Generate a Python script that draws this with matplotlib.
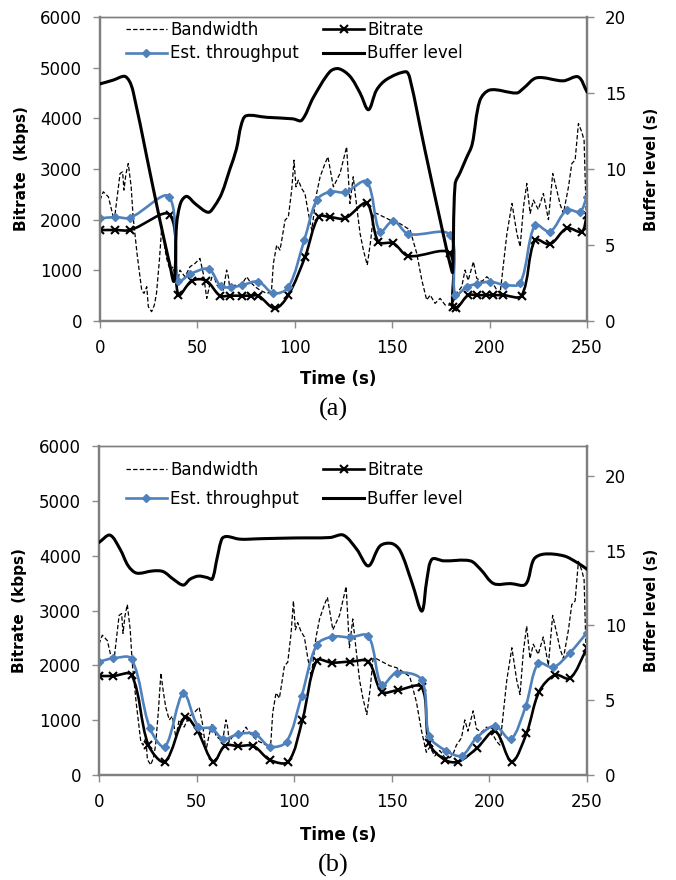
import numpy as np
import matplotlib
matplotlib.use("Agg")
import matplotlib.pyplot as plt
from matplotlib.path import Path
from matplotlib.patches import PathPatch
from matplotlib.lines import Line2D

plt.rcParams['font.family'] = ['DejaVu Sans']

# bandwidth trace (same network trace in both runs)
bw_t = [0, 1.7, 4.3, 6.8, 7.7, 10.3, 11.6, 12.3, 13.3, 14.5,
        16, 17, 19, 21.4, 22.6, 24, 24.8, 26.5, 27.9, 29,
        30.5, 31.7, 32.9, 34.2, 36, 37.6, 39.4, 41, 43.6, 46.2,
        48.8, 51.3, 53, 54.8, 56.5, 58, 60, 63.3, 65, 65.9,
        66.7, 68.4, 71, 73, 75.3, 77, 79.6, 82, 85.6, 88,
        89, 90.7, 92.4, 93.3, 95, 96.7, 98.4, 99.6, 100.6, 101.8,
        103.5, 105.2, 107, 108.7, 111.2, 113, 115.5, 117, 119.8, 123.2,
        126.6, 128.3, 130, 131.8, 133.5, 135.2, 137.2, 139, 140.4, 142,
        145.5, 149, 152.4, 156.6, 159.2, 162.6, 165.2, 167.7, 169.5, 172,
        174.6, 177.2, 179.7, 181.4, 183.1, 185.7, 187.4, 189, 191.7, 193.4,
        196, 198.6, 201.2, 203.7, 205.4, 208.9, 211.5, 214, 215.7, 217.4,
        219.1, 220.8, 222.5, 225, 227.6, 230.2, 232.4, 234.5, 236.2, 237.9,
        240.5, 242.2, 243.9, 245.6, 247.3, 248.5, 250]
bw_v = [2386, 2550, 2450, 2057, 2100, 2911, 2944, 2583, 2900, 3108,
        2648, 2057, 1334, 611, 545, 677, 283, 184, 315, 545,
        1203, 1860, 1531, 1235, 1005, 1071, 677, 1005, 874, 1071,
        1137, 1235, 940, 447, 743, 940, 710, 611, 1005, 874,
        611, 700, 710, 740, 874, 775, 677, 611, 545, 578,
        1137, 1498, 1400, 1597, 1991, 2057, 2583, 3174, 2648, 2780,
        2616, 2517, 2123, 1794, 2517, 2846, 3108, 3240, 2648, 2911,
        3437, 2320, 2846, 2254, 1728, 1400, 1104, 1597, 2123, 2123,
        2057, 1991, 1958, 1860, 1794, 1334, 808, 414, 512, 348,
        447, 315, 315, 381, 545, 677, 1005, 800, 1170, 841,
        780, 874, 775, 611, 545, 1728, 2320, 1728, 1466, 2254,
        2714, 2123, 2386, 2200, 2517, 2000, 2911, 2583, 2300, 2123,
        2648, 3108, 3174, 3897, 3733, 3568, 1597]

# (a)
br_a_t = [0, 7.9, 15.6, 35.9, 40.2, 47.2, 54.5, 61.6, 66.7, 72.7, 77.5, 81.3,
          89.8, 96.7, 105.3, 112.2, 118.2, 125.8, 136.9, 142.9, 150.6, 158.3,
          179.5, 181, 183, 189, 193.3, 198.4, 201.8, 207, 216.4, 223.3, 231,
          239.6, 247.3, 250]
br_a_v = [1796, 1796, 1796, 2092, 513, 796, 796, 500, 500, 500, 500, 500,
          250, 513, 1270, 2059, 2050, 2027, 2323, 1566, 1533, 1283,
          1336, 283, 250, 510, 510, 510, 510, 510, 500, 1599, 1514,
          1830, 1763, 2100]
tp_a_t = [0, 7.9, 15.6, 35.4, 40.2, 46.3, 55.8, 62, 67.5, 72.7, 81.3, 89,
          96.7, 104.9, 111.3, 118.2, 125.8, 136.9, 143.7, 150.6, 158.3, 179.7,
          182.3, 188.3, 193.4, 200.3, 208, 215.7, 223.3, 231, 239.6, 246.4, 250]
tp_a_v = [2027, 2050, 2040, 2454, 790, 928, 1026, 690, 665, 705, 776, 546,
          665, 1599, 2389, 2553, 2540, 2750, 1763, 1980, 1717, 1698,
          513, 677, 730, 776, 711, 744, 1895, 1763, 2191, 2158, 2454]
buf_a_t = [0, 6.8, 12.5, 15, 17, 24, 30.8, 36, 37.8, 38.6, 39.3, 41.5, 44.5,
           49, 55.6, 59, 62.5, 66.7, 70, 72.5, 75, 85.6, 99, 103.5, 109.5, 118,
           122.5, 128.3, 133.5, 137.8, 142, 147.2, 157, 159, 166.8, 178, 180,
           181, 182.3, 185, 188, 191, 195, 200.2, 213.9, 217.3, 224.2, 237.8,
           245.5, 250]
buf_a_v = [15.6, 15.85, 16.1, 15.8, 15.1, 10.8, 6.6, 3.6, 2.6, 3.3, 6.3, 7.8, 8.2,
           7.7, 7.15, 7.6, 8.4, 10.0, 11.3, 12.9, 13.5, 13.4, 13.3, 13.2, 14.7, 16.4,
           16.6, 16.1, 15.0, 13.9, 15.2, 15.9, 16.4, 16.0, 11.25, 4.67, 3.6,
           3.2, 9.0, 9.8, 10.7, 11.6, 14.5, 15.2, 15.0, 15.3, 16.0, 15.8,
           16.06, 15.07]

# (b)
br_b_t = [0, 7.3, 16.7, 25.3, 33.8, 44.1, 50.5, 58.6, 64.5, 71.4, 79.1, 87.6,
          97, 104.2, 111.5, 119.2, 128.6, 138, 144.8, 153.3, 165.3, 169.2,
          177.3, 184.1, 193.5, 202.9, 211.4, 219, 225.5, 233.6, 241.3, 250]
br_b_v = [1806, 1806, 1824, 547, 243, 1052, 800, 243, 535, 528, 528, 274,
          243, 1003, 2085, 2049, 2067, 2067, 1520, 1550, 1600, 578,
          274, 243, 486, 800, 243, 760, 1520, 1824, 1763, 2311]
tp_b_t = [0, 7.3, 16.7, 26.1, 33.8, 43.2, 50.9, 57.7, 63.7, 71.4, 79.9, 87.6,
          96.1, 103.8, 111.5, 119.5, 128.6, 138, 144.8, 152.5, 165.3, 169.2,
          177.7, 185.8, 193.5, 202.9, 210.9, 218.6, 225, 232.7, 241.3, 250]
tp_b_v = [2067, 2128, 2116, 851, 517, 1490, 881, 851, 657, 748, 748, 517,
          608, 1441, 2371, 2523, 2511, 2535, 1642, 1866, 1733, 711,
          444, 353, 681, 894, 651, 1258, 2037, 1964, 2231, 2596]
buf_b_t = [0, 5.6, 10.8, 15, 19.3, 27.8, 32.9, 38.1, 43.2, 46.6, 50.9, 55.5, 58,
           60.5, 63, 65.4, 72.2, 82.5, 100, 118.3, 125.2, 132, 138, 144, 150,
           154.3, 160.3, 165.4, 168, 170.6, 176.6, 190.2, 195.4, 202.2, 210.8,
           218.5, 222.8, 227.9, 238.2, 245, 250]
buf_b_v = [15.55, 16.04, 15.1, 13.98, 13.5, 13.65, 13.6, 13.09, 12.7, 13.09, 13.3, 13.2, 13.1,
           14.5, 15.8, 15.95, 15.77, 15.8, 15.85, 15.88, 16.04, 15.1, 13.98, 15.32, 15.48,
           14.99, 12.87, 10.96, 13.09, 14.43, 14.32, 14.32, 13.76, 12.8, 12.8,
           12.75, 14.43, 14.77, 14.65, 14.2, 13.76]

BLUE = '#4F81BD'
SPINE = '#7f7f7f'
TICKC = '#8c8c8c'
DASH = (0, (3.5, 1.8))


def smooth(ax, xs, ys, **kw):
    # excel-style smoothed line: bezier segments, tangents scaled by
    # on-screen segment lengths (limits must already be set)
    p = np.column_stack([xs, ys]).astype(float)
    q = ax.transData.transform(p)
    n = len(p)
    verts = [p[0]]
    codes = [Path.MOVETO]

    def ctrl(i, j):
        # control point next to p[i], on the side of neighbour p[j]
        a = i - 1 if i > 0 else i
        b = i + 1 if i + 1 < n else i
        d_in = np.hypot(*(q[i] - q[a]))
        d_out = np.hypot(*(q[b] - q[i]))
        d_seg = np.hypot(*(q[j] - q[i]))
        tot = d_in + d_out
        if tot == 0:
            return p[i]
        sgn = 1 if j > i else -1
        return p[i] + sgn * (p[b] - p[a]) * d_seg / tot / 3

    for i in range(n - 1):
        verts += [ctrl(i, i + 1), ctrl(i + 1, i), p[i + 1]]
        codes += [Path.CURVE4] * 3
    patch = PathPatch(Path(verts, codes), fill=False, capstyle='round',
                      joinstyle='round', **kw)
    ax.add_patch(patch)


def panel(rect, br_t, br_v, tp_t, tp_v, buf_t, buf_v, buf_max, leg_top, leg_sp,
          xl_y, cap, cap_y):
    ax = fig.add_axes(rect)
    ax.set_xlim(0, 250)
    ax.set_ylim(0, 6000)
    ax.plot(bw_t, bw_v, color='black', lw=0.9, ls=DASH, zorder=2)
    smooth(ax, br_t, br_v, edgecolor='black', lw=1.9, zorder=3)
    ax.plot(br_t, br_v, ls='none', marker='x', ms=5.5, mew=1.5, color='black', zorder=3)
    smooth(ax, tp_t, tp_v, edgecolor=BLUE, lw=1.9, zorder=4)
    ax.plot(tp_t, tp_v, ls='none', marker='D', ms=3.8, color=BLUE, zorder=4)
    ax.set_xticks(range(0, 251, 50))
    ax.set_yticks(range(0, 6001, 1000))
    ax.tick_params(axis='both', direction='out', length=5, width=1, color=TICKC,
                   labelsize=12, pad=8)
    ax.set_xlabel('Time (s)', fontsize=12, fontweight='bold')
    ax.xaxis.label.set_va('center')
    ax.xaxis.set_label_coords(0.49, xl_y)
    ax.set_ylabel('Bitrate  (kbps)', fontsize=11, fontweight='bold')
    ax.yaxis.label.set_va('center')
    ax.yaxis.set_label_coords(-0.162, 0.5)

    ax2 = ax.twinx()
    ax2.set_ylim(0, buf_max)
    smooth(ax2, buf_t, buf_v, edgecolor='black', lw=2.2, zorder=5)
    ax2.set_yticks(range(0, 21, 5))
    ax2.tick_params(axis='y', direction='out', length=5, width=1, color=TICKC,
                    labelsize=12, pad=8)
    ax2.set_ylabel('Buffer level (s)', fontsize=10.5, fontweight='bold')
    ax2.yaxis.label.set_va('center')
    ax2.yaxis.set_label_coords(1.133, 0.5)

    for a in (ax, ax2):
        for side in ('left', 'right', 'bottom'):
            a.spines[side].set_color(SPINE)
            a.spines[side].set_linewidth(1.6)
        a.spines['top'].set_color(SPINE)
        a.spines['top'].set_linewidth(1.0)

    handles = [
        Line2D([], [], color='black', lw=0.9, ls=DASH),
        Line2D([], [], color=BLUE, lw=1.9, marker='D', ms=3.8),
        Line2D([], [], color='black', lw=1.9, marker='x', ms=5.5, mew=1.5),
        Line2D([], [], color='black', lw=2.2),
    ]
    labels = ['Bandwidth', 'Est. throughput', 'Bitrate', 'Buffer level']
    ax2.legend(handles, labels, ncol=2, loc='upper left', frameon=False,
               bbox_to_anchor=(126 / 676, leg_top), bbox_transform=fig.transFigure,
               fontsize=12, borderpad=0, borderaxespad=0, handlelength=2.45,
               handletextpad=0.2, columnspacing=1.45, labelspacing=leg_sp)
    fig.text(333 / 676, cap_y, cap, ha='center', va='center',
             fontsize=19, family='Liberation Serif')
    return ax


fig = plt.figure(figsize=(6.76, 8.8), dpi=100)
panel([100 / 676, 1 - 321 / 880, 487 / 676, 304 / 880],
      br_a_t, br_a_v, tp_a_t, tp_a_v, buf_a_t, buf_a_v, 20,
      1 - 21 / 880, 0.33, (321 - 379) / 304, '(a)', 1 - 409 / 880)
panel([99 / 676, 1 - 775 / 880, 488 / 676, 329 / 880],
      br_b_t, br_b_v, tp_b_t, tp_b_v, buf_b_t, buf_b_v, 22,
      1 - 461 / 880, 0.66, (775 - 835) / 329, '(b)', 1 - 865 / 880)

fig.savefig('out.png', dpi=100)
